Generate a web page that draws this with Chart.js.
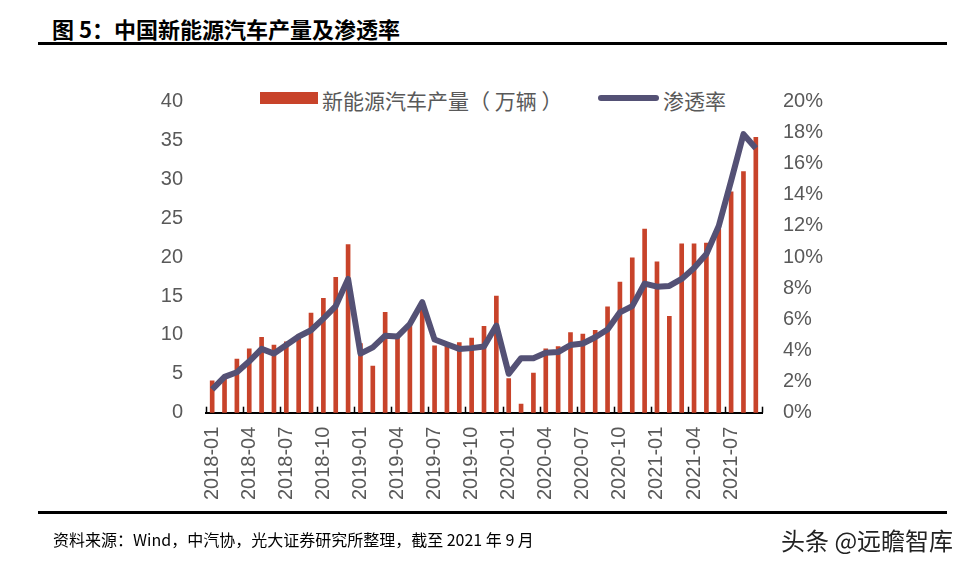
<!DOCTYPE html>
<html>
<head>
<meta charset="utf-8">
<script src="https://cdn.jsdelivr.net/npm/chart.js@4.4.1/dist/chart.umd.min.js"></script>
<style>
  body { margin: 0; background: #fff; width: 974px; height: 570px; overflow: hidden; position: relative; font-family: "Noto Sans CJK SC", sans-serif; }
  #wrap { position: absolute; left: 0; top: 0; width: 974px; height: 570px; }
  .title { position: absolute; left: 52px; top: 12px; font-size: 22px; font-weight: bold; color: #000; white-space: nowrap; }
  .rule { position: absolute; left: 38px; width: 909px; background: #000; }
  .legend { position: absolute; top: 86px; font-size: 21px; color: #595959; white-space: nowrap; line-height: 28px; }
  .swatch { position: absolute; }
  .source { position: absolute; left: 53px; top: 527px; font-size: 16px; color: #000; white-space: nowrap; }
  .mark { position: absolute; left: 781px; top: 522px; font-size: 24px; color: #222; white-space: nowrap; }
</style>
</head>
<body>
<div class="title">图 5：中国新能源汽车产量及渗透率</div>
<div class="rule" style="top:42px;height:3px;"></div>
<div class="swatch" style="left:260px;top:92px;width:58px;height:12px;background:#C8432A;"></div>
<div class="legend" style="left:322px;">新能源汽车产量（ 万辆 ）</div>
<div class="swatch" style="left:598px;top:95px;width:61px;height:6px;border-radius:3px;background:#545175;"></div>
<div class="legend" style="left:663px;">渗透率</div>
<div id="wrap"><canvas id="chart" width="974" height="570"></canvas></div>
<div class="rule" style="top:511px;height:3px;"></div>
<div class="source">资料来源：Wind，中汽协，光大证券研究所整理，截至 2021 年 9 月</div>
<div class="mark">头条 @远瞻智库</div>
<script>
// months 2018-01 .. 2021-09
const months = [
    "2018-01", "2018-02", "2018-03", "2018-04", "2018-05", "2018-06", "2018-07", "2018-08", "2018-09", "2018-10", "2018-11", "2018-12",
    "2019-01", "2019-02", "2019-03", "2019-04", "2019-05", "2019-06", "2019-07", "2019-08", "2019-09", "2019-10", "2019-11", "2019-12",
    "2020-01", "2020-02", "2020-03", "2020-04", "2020-05", "2020-06", "2020-07", "2020-08", "2020-09", "2020-10", "2020-11", "2020-12",
    "2021-01", "2021-02", "2021-03", "2021-04", "2021-05", "2021-06", "2021-07", "2021-08", "2021-09"
];

// 新能源汽车产量（万辆）
const production = [
    4.1, 4.8, 6.9, 8.2, 9.7, 8.7, 9.1, 10.0, 12.8, 14.7, 17.4, 21.6,
    8.9, 6.0, 12.9, 10.0, 11.3, 13.5, 8.6, 8.8, 9.0, 9.6, 11.1, 15.0,
    4.4, 1.1, 5.1, 8.2, 8.5, 10.3, 10.1, 10.6, 13.6, 16.8, 19.9, 23.6,
    19.4, 12.4, 21.7, 21.7, 21.8, 24.0, 28.4, 31.0, 35.4
];

// 渗透率 (%)
const penetration = [
    1.5, 2.3, 2.6, 3.3, 4.1, 3.8, 4.35, 4.9, 5.3, 6.05, 6.85, 8.6,
    3.8, 4.2, 4.95, 4.9, 5.7, 7.1, 4.7, 4.4, 4.1, 4.15, 4.25, 5.6,
    2.5, 3.5, 3.5, 3.85, 3.9, 4.35, 4.45, 4.85, 5.35, 6.45, 6.85, 8.3,
    8.1, 8.15, 8.6, 9.3, 10.2, 12.0, 14.9, 17.9, 17.0
];

const labelEvery = 3;
const tickFont = { family: "'Liberation Sans', Arial, sans-serif", size: 20 };
const labelColor = "#595959";

// small upward tick marks on the category axis, every 3 months
const innerTicks = {
    id: "innerTicks",
    afterDatasetsDraw(chart) {
        const x = chart.scales.x;
        const ctx = chart.ctx;
        const half = (x.getPixelForValue(1) - x.getPixelForValue(0)) / 2;
        ctx.save();
        ctx.strokeStyle = "#000";
        ctx.lineWidth = 1.5;
        for (let i = 0; i <= months.length; i += labelEvery) {
            const px = Math.round(x.getPixelForValue(i) - half) + 0.5;
            ctx.beginPath();
            ctx.moveTo(px, x.top);
            ctx.lineTo(px, x.top - 6);
            ctx.stroke();
        }
        ctx.restore();
    }
};

new Chart(document.getElementById("chart").getContext("2d"), {
    data: {
        labels: months,
        datasets: [
            {
                type: "line",
                label: "渗透率",
                data: penetration,
                yAxisID: "y1",
                borderColor: "#545175",
                borderWidth: 6,
                pointRadius: 0,
                tension: 0,
                borderJoinStyle: "round",
                order: 0
            },
            {
                type: "bar",
                label: "新能源汽车产量（万辆）",
                data: production,
                yAxisID: "y",
                backgroundColor: "#C8432A",
                barThickness: 4,
                order: 1
            }
        ]
    },
    options: {
        responsive: false,
        animation: false,
        layout: { padding: { top: 101.5, left: 0, right: 0, bottom: 0 } },
        plugins: { legend: { display: false }, tooltip: { enabled: false } },
        scales: {
            x: {
                type: "category",
                offset: true,
                grid: { display: false, drawTicks: false },
                border: { display: true, color: "#000", width: 2 },
                ticks: {
                    autoSkip: false,
                    maxRotation: 90,
                    minRotation: 90,
                    padding: 14,
                    color: labelColor,
                    font: { family: tickFont.family, size: 20 },
                    callback: function (val, idx) {
                        return idx % labelEvery === 0 ? months[idx] : null;
                    }
                },
                afterFit: function (s) { s.height = 570 - 412.7; }
            },
            y: {
                position: "left",
                min: 0,
                max: 40,
                grid: { display: false, drawTicks: false },
                border: { display: false },
                ticks: { stepSize: 5, padding: 23, color: labelColor, font: tickFont },
                afterFit: function (s) { s.width = 206; }
            },
            y1: {
                position: "right",
                min: 0,
                max: 20,
                grid: { display: false, drawTicks: false },
                border: { display: false },
                ticks: {
                    stepSize: 2,
                    padding: 21,
                    color: labelColor,
                    font: tickFont,
                    callback: v => v + "%"
                },
                afterFit: function (s) { s.width = 212; }
            }
        }
    },
    plugins: [innerTicks]
});
</script>
</body>
</html>
